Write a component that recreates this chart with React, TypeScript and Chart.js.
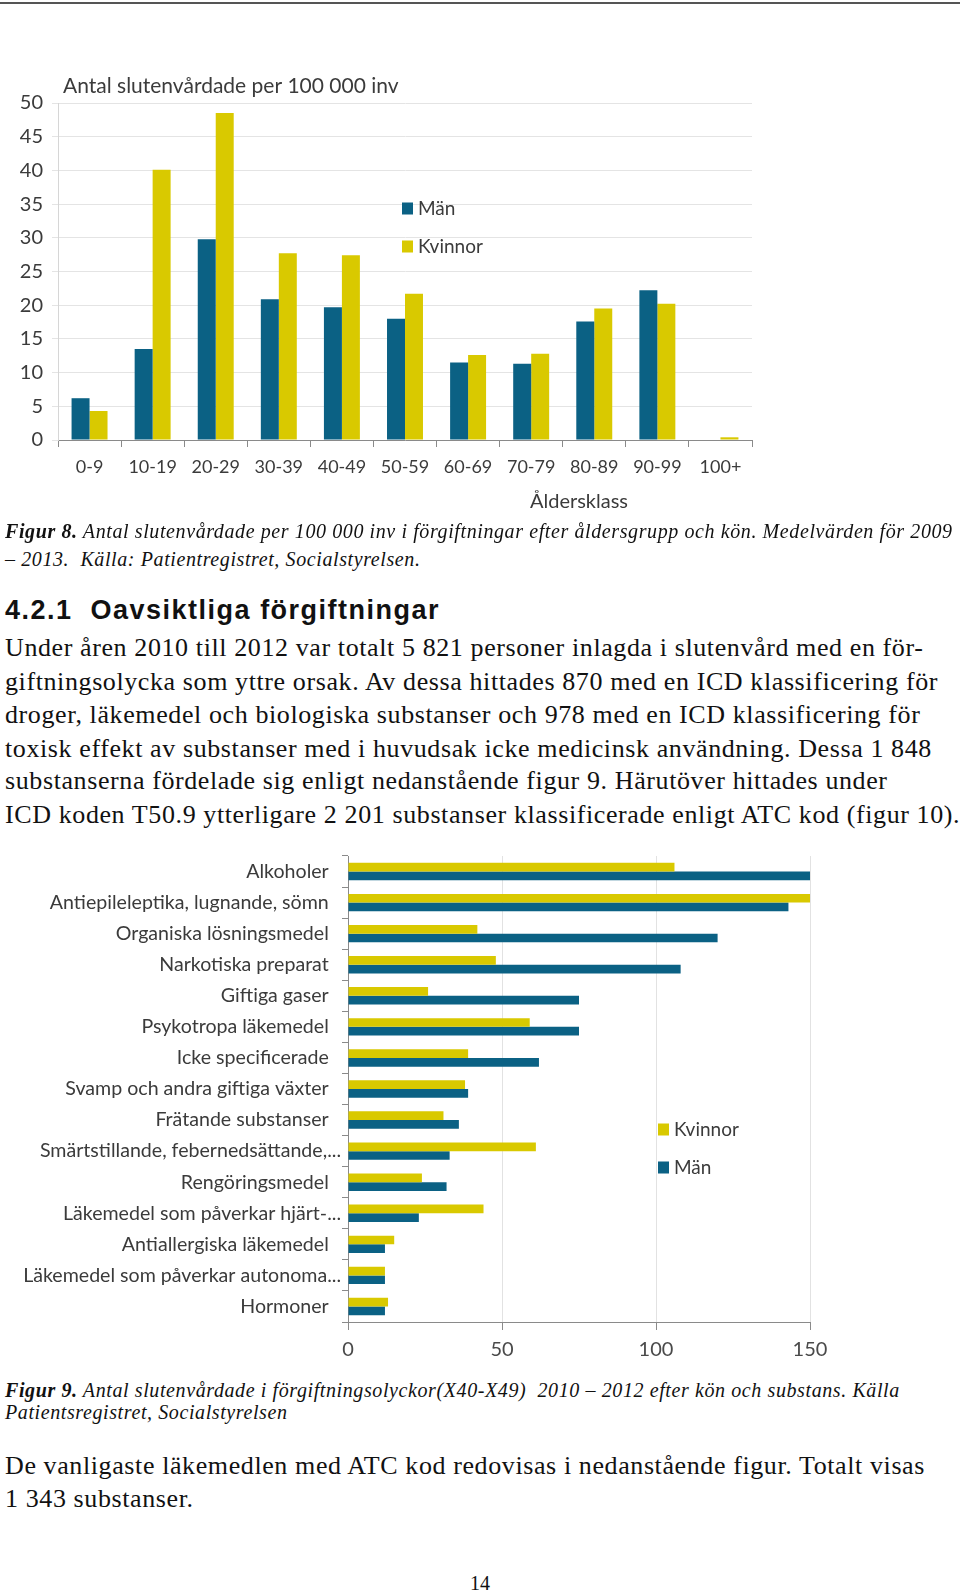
import React, { useEffect, useRef } from "react";
import { Chart, registerables } from "chart.js";

Chart.register(...registerables);

// ---------- Figure 8 data ----------
const ageGroups = ["0-9", "10-19", "20-29", "30-39", "40-49", "50-59", "60-69", "70-79", "80-89", "90-99", "100+"];
const ageMen = [6.2, 13.5, 29.8, 20.9, 19.7, 18.0, 11.5, 11.3, 17.6, 22.2, 0];
const ageWomen = [4.3, 40.1, 48.5, 27.7, 27.4, 21.7, 12.6, 12.8, 19.5, 20.2, 0.4];
const ageTitle = "Antal slutenvårdade per 100 000 inv";
const ageAxisTitle = "Åldersklass";

// ---------- Figure 9 data ----------
const substances = [
  "Alkoholer",
  "Antiepileleptika, lugnande, sömn",
  "Organiska lösningsmedel",
  "Narkotiska preparat",
  "Giftiga gaser",
  "Psykotropa läkemedel",
  "Icke specificerade",
  "Svamp och andra giftiga växter",
  "Frätande substanser",
  "Smärtstillande, febernedsättande,...",
  "Rengöringsmedel",
  "Läkemedel som påverkar hjärt-...",
  "Antiallergiska läkemedel",
  "Läkemedel som påverkar autonoma...",
  "Hormoner",
];
const subWomen = [106, 150, 42, 48, 26, 59, 39, 38, 31, 61, 24, 44, 15, 12, 13];
const subMen = [150, 143, 120, 108, 75, 75, 62, 39, 36, 33, 32, 23, 12, 12, 12];

const MEN = "#0B6184";
const WOMEN = "#D9C900";
const TEXT = "#3b3b3b";
const FONT = "Lato";

type Txt = { text: string; x: number; y: number; size: number; align?: CanvasTextAlign };
type Leg = { ds: number; x: number; y: number };

const overlay = (texts: Txt[], legend: Leg[]) => ({
  id: "overlay",
  afterDraw(chart: any) {
    const ctx = chart.ctx as CanvasRenderingContext2D;
    ctx.save();
    ctx.textBaseline = "middle";
    for (const t of texts) {
      ctx.font = `${t.size}px ${FONT}`;
      ctx.fillStyle = TEXT;
      ctx.textAlign = t.align || "left";
      ctx.fillText(t.text, t.x, t.y);
    }
    ctx.textAlign = "left";
    ctx.font = `19px ${FONT}`;
    for (const l of legend) {
      const ds = chart.data.datasets[l.ds];
      ctx.fillStyle = ds.backgroundColor;
      ctx.fillRect(l.x, l.y - 6, 11, 12);
      ctx.fillStyle = TEXT;
      ctx.fillText(ds.label, l.x + 16, l.y);
    }
    ctx.restore();
  },
});

function AgeChart() {
  const ref = useRef<HTMLCanvasElement>(null);
  useEffect(() => {
    const chart = new Chart(ref.current!, {
      type: "bar",
      data: {
        labels: ageGroups,
        datasets: [
          { label: "Män", data: ageMen, backgroundColor: MEN, categoryPercentage: 0.57, barPercentage: 1 },
          { label: "Kvinnor", data: ageWomen, backgroundColor: WOMEN, categoryPercentage: 0.57, barPercentage: 1 },
        ],
      },
      options: {
        animation: false,
        responsive: false,
        layout: { padding: { top: 43, right: 18, left: 0, bottom: 0 } },
        plugins: { legend: { display: false }, tooltip: { enabled: false } },
        scales: {
          x: {
            afterFit: (s: any) => { s.height = 80; },
            grid: { display: true, drawOnChartArea: false, offset: true, tickLength: 7, color: "#8a8a8a" },
            border: { color: "#8a8a8a" },
            ticks: { color: TEXT, font: { family: FONT, size: 18 }, padding: 9, maxRotation: 0, autoSkip: false },
          },
          y: {
            min: 0,
            max: 50,
            afterFit: (s: any) => { s.width = 58; },
            ticks: { stepSize: 5, color: TEXT, font: { family: FONT, size: 20 }, padding: 9 },
            grid: { color: "#e4e4e4", tickLength: 6 },
            border: { color: "#d6d6d6" },
          },
        },
      },
      plugins: [
        overlay(
          [
            { text: ageTitle, x: 63, y: 26, size: 21 },
            { text: ageAxisTitle, x: 579, y: 442, size: 20, align: "center" },
          ],
          [
            { ds: 0, x: 402, y: 148.5 },
            { ds: 1, x: 402, y: 186.5 },
          ]
        ),
      ],
    } as any);
    return () => chart.destroy();
  }, []);
  return <canvas ref={ref} width={770} height={460} style={{ position: "absolute", left: 0, top: 60 }} />;
}

function SubstanceChart() {
  const ref = useRef<HTMLCanvasElement>(null);
  useEffect(() => {
    const chart = new Chart(ref.current!, {
      type: "bar",
      data: {
        labels: substances,
        datasets: [
          { label: "Kvinnor", data: subWomen, backgroundColor: WOMEN, categoryPercentage: 0.56, barPercentage: 1 },
          { label: "Män", data: subMen, backgroundColor: MEN, categoryPercentage: 0.56, barPercentage: 1 },
        ],
      },
      options: {
        indexAxis: "y",
        animation: false,
        responsive: false,
        layout: { padding: { top: 16, right: 30, left: 0, bottom: 0 } },
        plugins: { legend: { display: false }, tooltip: { enabled: false } },
        scales: {
          x: {
            min: 0,
            max: 150,
            afterFit: (s: any) => { s.height = 48; },
            ticks: { stepSize: 50, color: "#4a4a4a", font: { family: FONT, size: 20 }, padding: 8 },
            grid: { color: "#e2e2e2", tickLength: 8, tickColor: "#8a8a8a" },
            border: { color: "#8a8a8a" },
          },
          y: {
            afterFit: (s: any) => { s.width = 348; },
            grid: { display: true, drawOnChartArea: false, offset: true, tickLength: 6, color: "#8a8a8a" },
            border: { color: "#8a8a8a" },
            ticks: {
              color: TEXT,
              font: { family: FONT, size: 19.6 },
              padding: 1,
              autoSkip: false,
              callback: function (this: any, v: any) {
                const l = this.getLabelForValue(v) as string;
                return l.endsWith("...") ? l : l + "\u2002\u2009";
              },
            },
          },
        },
      },
      plugins: [
        overlay([], [
          { ds: 0, x: 658, y: 289.5 },
          { ds: 1, x: 658, y: 327.5 },
        ]),
      ],
    } as any);
    return () => chart.destroy();
  }, []);
  return <canvas ref={ref} width={840} height={530} style={{ position: "absolute", left: 0, top: 840 }} />;
}

const serif = "'Liberation Serif', 'Times New Roman', serif";

function Line({ top, size, lh, children, style }: any) {
  return (
    <div
      style={{
        position: "absolute",
        left: 5,
        top: top - lh / 2,
        fontFamily: serif,
        fontSize: size,
        lineHeight: `${lh}px`,
        whiteSpace: "pre",
        color: "#111",
        ...style,
      }}
    >
      {children}
    </div>
  );
}

const para1 = [
  "Under åren 2010 till 2012 var totalt 5 821 personer inlagda i slutenvård med en för-",
  "giftningsolycka som yttre orsak. Av dessa hittades 870 med en ICD klassificering för",
  "droger, läkemedel och biologiska substanser och 978 med en ICD klassificering för",
  "toxisk effekt av substanser med i huvudsak icke medicinsk användning. Dessa 1 848",
  "substanserna fördelade sig enligt nedanstående figur 9. Härutöver hittades under",
  "ICD koden T50.9 ytterligare 2 201 substanser klassificerade enligt ATC kod (figur 10).",
];
const para1Tops = [648, 682, 715, 749, 781, 815];
const para2 = [
  "De vanligaste läkemedlen med ATC kod redovisas i nedanstående figur. Totalt visas",
  "1 343 substanser.",
];
const para2Tops = [1466, 1499];

export default function App() {
  const capStyle = { fontStyle: "italic", letterSpacing: "0.6px", fontSize: 20 };
  const bodyStyle = { letterSpacing: "0.6px" };
  return (
    <div style={{ position: "absolute", left: 0, top: 0, width: 960, height: 1593, background: "#fff", overflow: "hidden" }}>
      <div style={{ position: "absolute", left: 0, top: 2, width: 960, height: 2, background: "#555" }} />
      <AgeChart />
      <Line top={531} size={20} lh={26} style={capStyle}>
        <b>Figur 8.</b> Antal slutenvårdade per 100 000 inv i förgiftningar efter åldersgrupp och kön. Medelvärden för 2009
      </Line>
      <Line top={559} size={20} lh={26} style={capStyle}>
        {"– 2013.  Källa: Patientregistret, Socialstyrelsen."}
      </Line>
      <Line top={610} size={27} lh={32} style={{ fontFamily: "'Liberation Sans', Arial, sans-serif", fontWeight: "bold", letterSpacing: "1.5px" }}>
        {"4.2.1  Oavsiktliga förgiftningar"}
      </Line>
      {para1.map((t, i) => (
        <Line key={i} top={para1Tops[i]} size={26} lh={32} style={bodyStyle}>
          {t}
        </Line>
      ))}
      <SubstanceChart />
      <Line top={1390} size={20} lh={22} style={capStyle}>
        <b>Figur 9.</b> {"Antal slutenvårdade i förgiftningsolyckor(X40-X49)  2010 – 2012 efter kön och substans. Källa"}
      </Line>
      <Line top={1412} size={20} lh={22} style={capStyle}>
        Patientsregistret, Socialstyrelsen
      </Line>
      {para2.map((t, i) => (
        <Line key={i} top={para2Tops[i]} size={26} lh={32} style={bodyStyle}>
          {t}
        </Line>
      ))}
      <div
        style={{
          position: "absolute",
          left: 0,
          width: 960,
          top: 1571,
          textAlign: "center",
          fontFamily: serif,
          fontSize: 20,
          lineHeight: "24px",
          color: "#111",
        }}
      >
        14
      </div>
    </div>
  );
}
